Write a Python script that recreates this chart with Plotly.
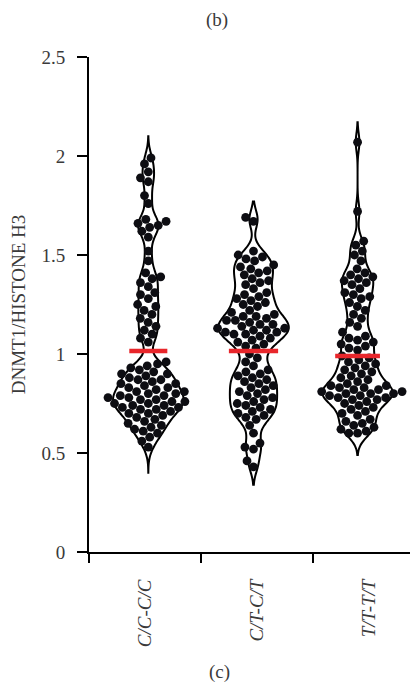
import numpy as np
import plotly.graph_objects as go

categories = ["C/C-C/C", "C/T-C/T", "T/T-T/T"]
tick_labels = ["<i>C/C-C/C</i>", "<i>C/T-C/T</i>", "<i>T/T-T/T</i>"]

cc_values = [1.99, 1.96, 1.92, 1.89, 1.87, 1.80, 1.76,
             1.68, 1.67, 1.66, 1.65, 1.64, 1.62, 1.59,
             1.52, 1.47,
             1.41, 1.39, 1.38, 1.36, 1.34,
             1.31, 1.30, 1.28, 1.25, 1.24, 1.22,
             1.20, 1.18, 1.16, 1.14, 1.12, 1.10, 1.08, 1.06,
             0.96, 0.95, 0.94, 0.93, 0.92, 0.91, 0.90, 0.90,
             0.89, 0.88, 0.87, 0.87, 0.86, 0.85, 0.85, 0.84, 0.83, 0.83,
             0.82, 0.81, 0.81, 0.80, 0.80, 0.79, 0.79, 0.78, 0.78, 0.77, 0.77, 0.76,
             0.76, 0.75, 0.75, 0.74, 0.74, 0.73, 0.73, 0.72, 0.72, 0.71, 0.70, 0.70,
             0.69, 0.68, 0.67, 0.66, 0.65, 0.64, 0.63, 0.62, 0.61, 0.60,
             0.58, 0.56, 0.53]

ct_values = [1.69, 1.67,
             1.52, 1.50, 1.49, 1.48, 1.47,
             1.45, 1.44, 1.43, 1.42, 1.41, 1.40,
             1.38, 1.37, 1.36, 1.35, 1.33,
             1.31, 1.30, 1.29, 1.28, 1.27, 1.26, 1.25, 1.24,
             1.22, 1.21, 1.20, 1.19, 1.19, 1.18, 1.17, 1.17, 1.16, 1.15, 1.15, 1.14,
             1.13, 1.13, 1.12, 1.12, 1.11, 1.11, 1.10, 1.10, 1.09, 1.08, 1.07, 1.06, 1.05, 1.04, 1.03,
             1.00, 0.98, 0.96, 0.94,
             0.92, 0.91, 0.90, 0.89, 0.88, 0.87, 0.86, 0.85,
             0.84, 0.83, 0.82, 0.81, 0.80, 0.79, 0.78, 0.77,
             0.76, 0.75, 0.74, 0.73, 0.72, 0.71, 0.70, 0.69, 0.68, 0.67,
             0.64, 0.60,
             0.55, 0.53, 0.52,
             0.46, 0.43]

tt_values = [2.07, 1.72,
             1.57, 1.55, 1.52, 1.50, 1.47,
             1.43, 1.41, 1.40, 1.39, 1.38, 1.37, 1.36, 1.35, 1.33, 1.31, 1.30, 1.29, 1.28,
             1.26, 1.24, 1.22, 1.20, 1.18, 1.16, 1.14,
             1.11, 1.09, 1.08, 1.07, 1.06, 1.05, 1.04, 1.03, 1.02,
             0.99, 0.98, 0.97, 0.96, 0.95, 0.94, 0.93, 0.92, 0.91, 0.90,
             0.89, 0.88, 0.87, 0.86, 0.85, 0.84, 0.84, 0.83, 0.83, 0.82,
             0.82, 0.81, 0.81, 0.80, 0.80, 0.80, 0.79, 0.79, 0.78, 0.78, 0.77, 0.77,
             0.76, 0.75, 0.74, 0.73, 0.72, 0.71, 0.70, 0.69,
             0.67, 0.66, 0.65, 0.64, 0.63, 0.62, 0.61, 0.60, 0.60]

group_values = [cc_values, ct_values, tt_values]
center_lines = [1.015, 1.015, 0.99]
violin_spans = [[0.40, 2.10], [0.34, 1.77], [0.49, 2.17]]
y_ticks = [0, 0.5, 1, 1.5, 2, 2.5]
y_tick_text = ["0", "0.5", "1", "1.5", "2", "2.5"]

# layout / style
positions = [0.53, 1.47, 2.40]
line_halfwidths = [0.17, 0.22, 0.20]
PX_X = 112.0   # pixels per x unit
PX_Y = 198.0   # pixels per y unit
DOT = 8.8      # dot spacing in px
FONT = "Liberation Serif, Times New Roman, serif"


def beeswarm(vals):
    order = np.argsort(vals)
    ys = np.asarray(vals, dtype=float) * PX_Y
    placed = []
    xs = np.zeros(len(vals))
    for i in order:
        y = ys[i]
        intervals = []
        for (px, py) in placed:
            dy = abs(py - y)
            if dy < DOT:
                w = np.sqrt(DOT ** 2 - dy ** 2)
                intervals.append((px - w, px + w))
        cands = [0.0] + [a for a, b in intervals] + [b for a, b in intervals]
        cands = sorted(cands, key=lambda c: (abs(c), c))
        for c in cands:
            if all(not (a + 1e-6 < c < b - 1e-6) for a, b in intervals):
                xs[i] = c
                break
        placed.append((xs[i], y))
    return xs / PX_X


fig = go.Figure()
for k, vals in enumerate(group_values):
    fig.add_trace(go.Violin(
        x0=positions[k], y=vals, orientation="v",
        width=0.63, scalemode="width", bandwidth=0.045,
        spanmode="manual", span=violin_spans[k],
        points=False, fillcolor="white",
        line=dict(color="black", width=2),
        box_visible=False, meanline_visible=False,
        hoverinfo="skip", showlegend=False,
    ))
for k, vals in enumerate(group_values):
    offs = beeswarm(vals)
    fig.add_trace(go.Scatter(
        x=positions[k] + offs, y=vals, mode="markers",
        marker=dict(color="#0d0d12", size=8.8, line=dict(width=0)),
        hoverinfo="skip", showlegend=False,
    ))
for k, m in enumerate(center_lines):
    fig.add_trace(go.Scatter(
        x=[positions[k] - line_halfwidths[k], positions[k] + line_halfwidths[k]],
        y=[m, m], mode="lines", xaxis="x2",
        line=dict(color="#e8262b", width=4.5),
        hoverinfo="skip", showlegend=False,
    ))

axis_font = dict(family=FONT, size=19, color="#3a3a3a")
fig.update_layout(
    width=410, height=678,
    margin=dict(l=81, r=0, t=49, b=134),
    paper_bgcolor="white", plot_bgcolor="white",
    violinmode="overlay",
    font=dict(family=FONT, size=19, color="#3a3a3a"),
    xaxis=dict(range=[0, 2.94], tickvals=[0.5, 1.5, 2.5], ticktext=tick_labels,
               tickangle=-90, ticks="", showline=True, linewidth=2, linecolor="black",
               showgrid=False, zeroline=False, tickfont=axis_font,
               ticklabelstandoff=18),
    xaxis2=dict(range=[0, 2.94], overlaying="x", anchor="y", side="bottom",
                tickvals=[0, 1, 2], ticks="outside", ticklen=10, tickwidth=2,
                tickcolor="black", showticklabels=False, showline=False,
                showgrid=False, zeroline=False),
    yaxis=dict(range=[0, 2.5], tickvals=y_ticks, ticktext=y_tick_text,
               ticks="outside", ticklen=10, tickwidth=2, tickcolor="black",
               showline=True, linewidth=2, linecolor="black",
               showgrid=False, zeroline=False, tickfont=axis_font,
               ticklabelstandoff=8,
               title=dict(text="DNMT1/HISTONE H3", font=axis_font, standoff=12)),
    annotations=[
        dict(text="(b)", xref="paper", yref="paper", x=0.389, y=1.075,
             showarrow=False, font=axis_font, xanchor="center", yanchor="middle"),
        dict(text="(c)", xref="paper", yref="paper", x=0.398, y=-0.242,
             showarrow=False, font=axis_font, xanchor="center", yanchor="middle"),
    ],
)

fig.write_html("out.html")
